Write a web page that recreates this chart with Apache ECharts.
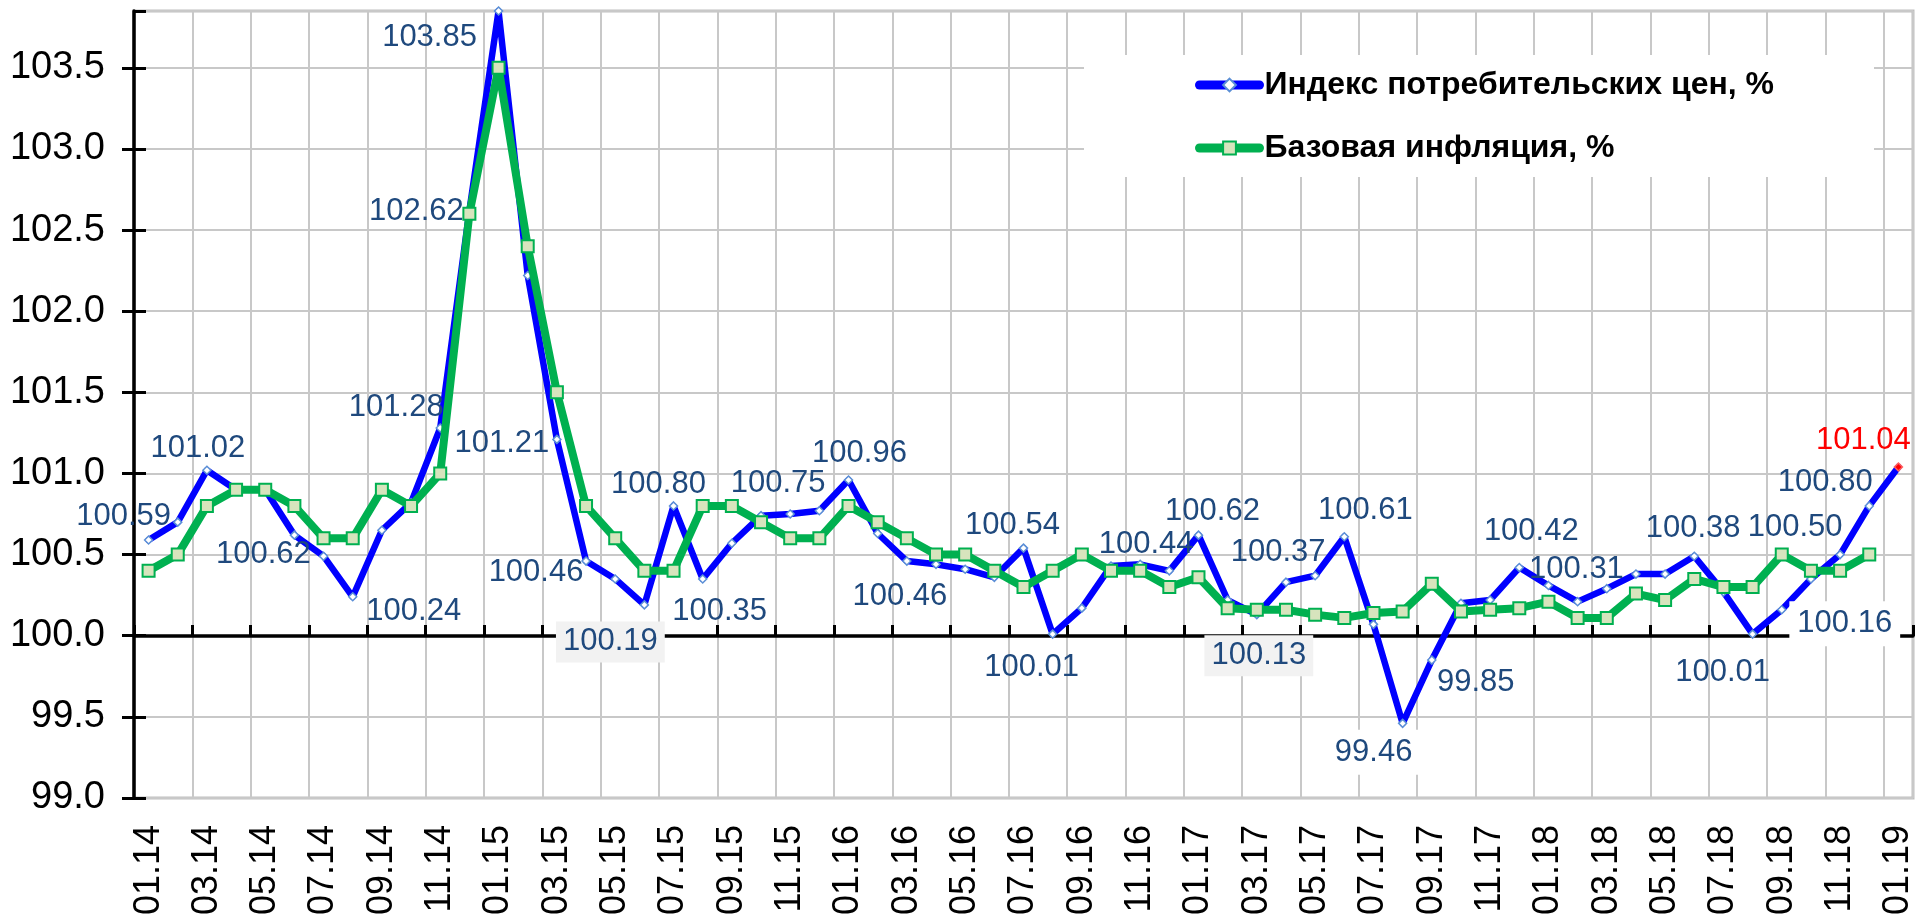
<!DOCTYPE html>
<html lang="ru">
<head>
    <meta charset="UTF-8">
    <title>ИПЦ и базовая инфляция</title>
    <script src="https://cdn.jsdelivr.net/npm/echarts@6/dist/echarts.min.js"></script>
    <style>
        html, body { margin: 0; padding: 0; background: #fff; }
        #main { width: 1927px; height: 919px; }
    </style>
</head>
<body>
<div id="main"></div>
<script type="text/javascript">
    // месяцы 01.14 - 01.19
    var months = ['01.14','02.14','03.14','04.14','05.14','06.14','07.14','08.14','09.14','10.14','11.14','12.14',
        '01.15','02.15','03.15','04.15','05.15','06.15','07.15','08.15','09.15','10.15','11.15','12.15',
        '01.16','02.16','03.16','04.16','05.16','06.16','07.16','08.16','09.16','10.16','11.16','12.16',
        '01.17','02.17','03.17','04.17','05.17','06.17','07.17','08.17','09.17','10.17','11.17','12.17',
        '01.18','02.18','03.18','04.18','05.18','06.18','07.18','08.18','09.18','10.18','11.18','12.18',
        '01.19'];

    // Индекс потребительских цен, %
    var cpi = [100.59,100.70,101.02,100.90,100.90,100.62,100.49,100.24,100.65,100.82,101.28,102.62,
        103.85,102.22,101.21,100.46,100.35,100.19,100.80,100.35,100.57,100.74,100.75,100.77,
        100.96,100.63,100.46,100.44,100.41,100.36,100.54,100.01,100.17,100.43,100.44,100.40,
        100.62,100.22,100.13,100.33,100.37,100.61,100.07,99.46,99.85,100.20,100.22,100.42,
        100.31,100.21,100.29,100.38,100.38,100.49,100.27,100.01,100.16,100.35,100.50,100.80,
        101.04];

    // Базовая инфляция, % (нет данных за 01.19)
    var core = [100.40,100.50,100.80,100.90,100.90,100.80,100.60,100.60,100.90,100.80,101.00,102.60,
        103.50,102.40,101.50,100.80,100.60,100.40,100.40,100.80,100.80,100.70,100.60,100.60,
        100.80,100.70,100.60,100.50,100.50,100.40,100.30,100.40,100.50,100.40,100.40,100.30,
        100.36,100.17,100.16,100.16,100.13,100.11,100.14,100.15,100.32,100.15,100.16,100.17,
        100.21,100.11,100.11,100.26,100.22,100.35,100.30,100.30,100.50,100.40,100.40,100.50];

    var yMin = 99.0, yMax = 103.85, yStep = 0.5;

    // подписи: индекс точки -> смещение подписи от точки [dx, dy]
    var labelShift = {
        0: [-25, -24], 2: [-9, -22], 5: [-31, 19], 7: [61, 15], 10: [-44, -21],
        11: [-53, 1], 12: [-69, 26], 14: [-55, 4], 15: [-50, 11], 17: [-34, 37],
        18: [-15, -21], 19: [17, 33], 22: [-12, -31], 24: [11, -27], 26: [-7, 35],
        30: [-11, -23], 31: [-21, 33], 34: [6, -20], 36: [14, -24], 38: [2, 41],
        40: [-37, -23], 41: [21, -26], 43: [-29, 29], 44: [44, 22], 47: [12, -36],
        48: [28, -16], 52: [28, -46], 55: [-30, 38], 56: [63, 14], 58: [-45, -27],
        59: [-44, -23], 60: [-35, -27]
    };
    var labelBg = { 17: '#f2f2f2', 38: '#f2f2f2', 43: '#ffffff', 56: '#ffffff' };

    var FONT = "'Liberation Sans', Arial, sans-serif";
    var gridTop = 11, gridBottom = 121, gridLeft = 134, gridRight = 14;
    var gridH = 919 - gridTop - gridBottom;

    function buildCpiData() {
        var out = [];
        for (var i = 0; i < cpi.length; i++) {
            var item = { value: cpi[i] };
            var sh = labelShift[i];
            if (sh) {
                item.label = {
                    show: true,
                    position: 'inside',
                    offset: sh
                };
                if (labelBg[i]) {
                    item.label.backgroundColor = labelBg[i];
                    item.label.padding = labelBg[i] === '#ffffff' ? [7, 8] : [5, 7];
                }
            }
            if (i === cpi.length - 1) {
                item.itemStyle = { color: '#ff0000', borderColor: '#ff6060' };
                if (item.label) item.label.color = '#ff0000';
            }
            out.push(item);
        }
        return out;
    }

    var myChart = echarts.init(document.getElementById('main'), null, { renderer: 'canvas' });
    var option = {
        animation: false,
        backgroundColor: '#ffffff',
        grid: {
            left: gridLeft, right: gridRight, top: gridTop, bottom: gridBottom,
            outerBoundsMode: 'none',
            containLabel: false,
            show: true, borderColor: '#bfbfbf', borderWidth: 3, backgroundColor: '#ffffff'
        },
        legend: {
            orient: 'vertical',
            left: 1084,
            top: 55,
            backgroundColor: '#ffffff',
            padding: [12, 100, 11, 111],
            itemGap: 27,
            itemWidth: 60,
            itemHeight: 16,
            lineStyle: { width: 9, cap: 'round' },
            textStyle: { fontFamily: FONT, fontSize: 32, fontWeight: 'bold', color: '#000', lineHeight: 36 },
            data: ['Индекс потребительских цен, %', 'Базовая инфляция, %']
        },
        xAxis: [{
            type: 'category',
            data: months,
            boundaryGap: true,
            axisLine: { show: false },
            axisTick: { show: false },
            axisLabel: {
                interval: 1, rotate: 90, margin: 27,
                fontFamily: FONT, fontSize: 36, color: '#000'
            },
            splitLine: { show: true, interval: 1, lineStyle: { color: '#c8c8c8', width: 2 } }
        }, {
            // линия 100.0 с засечками
            type: 'category',
            data: months,
            boundaryGap: true,
            position: 'bottom',
            offset: -Math.round((100 - yMin) / (yMax - yMin) * gridH),
            axisLine: { show: true, lineStyle: { color: '#000', width: 3.5 } },
            axisTick: { show: true, inside: true, interval: 1, length: 11, lineStyle: { color: '#000', width: 3 } },
            axisLabel: { show: false },
            splitLine: { show: false }
        }],
        yAxis: [{
            type: 'value',
            min: yMin, max: yMax, interval: yStep,
            axisLine: { show: true, lineStyle: { color: '#000', width: 3.5 } },
            axisTick: { show: true, length: 12, lineStyle: { color: '#000', width: 3 } },
            axisLabel: {
                margin: 29, fontFamily: FONT, fontSize: 38, color: '#000',
                showMaxLabel: false,
                formatter: function (v) { return v.toFixed(1); }
            },
            splitLine: { show: true, lineStyle: { color: '#c8c8c8', width: 2 } }
        }, {
            type: 'value',
            position: 'left',
            min: yMin, max: yMax, interval: yStep,
            axisLine: { show: false },
            axisTick: { show: true, inside: true, length: 12, lineStyle: { color: '#000', width: 3 } },
            axisLabel: { show: false },
            splitLine: { show: false }
        }],
        series: [{
            name: 'Индекс потребительских цен, %',
            type: 'line',
            z: 2,
            data: buildCpiData(),
            symbol: 'diamond',
            symbolSize: 8,
            showAllSymbol: true,
            lineStyle: { color: '#0000ff', width: 6.5, cap: 'round', join: 'round' },
            itemStyle: { color: '#ffffff', borderColor: '#5b8fd6', borderWidth: 1.5 },
            label: {
                show: false,
                fontFamily: FONT, fontSize: 31, color: '#1f497d',
                formatter: function (p) { return p.value.toFixed(2); }
            },
            emphasis: { disabled: true }
        }, {
            name: 'Базовая инфляция, %',
            type: 'line',
            z: 3,
            data: core,
            symbol: 'rect',
            symbolSize: 12,
            showAllSymbol: true,
            lineStyle: { color: '#00b050', width: 8, cap: 'round', join: 'round' },
            itemStyle: { color: '#d7e4bd', borderColor: '#00b050', borderWidth: 2 },
            emphasis: { disabled: true }
        }]
    };
    myChart.setOption(option);
</script>
</body>
</html>
